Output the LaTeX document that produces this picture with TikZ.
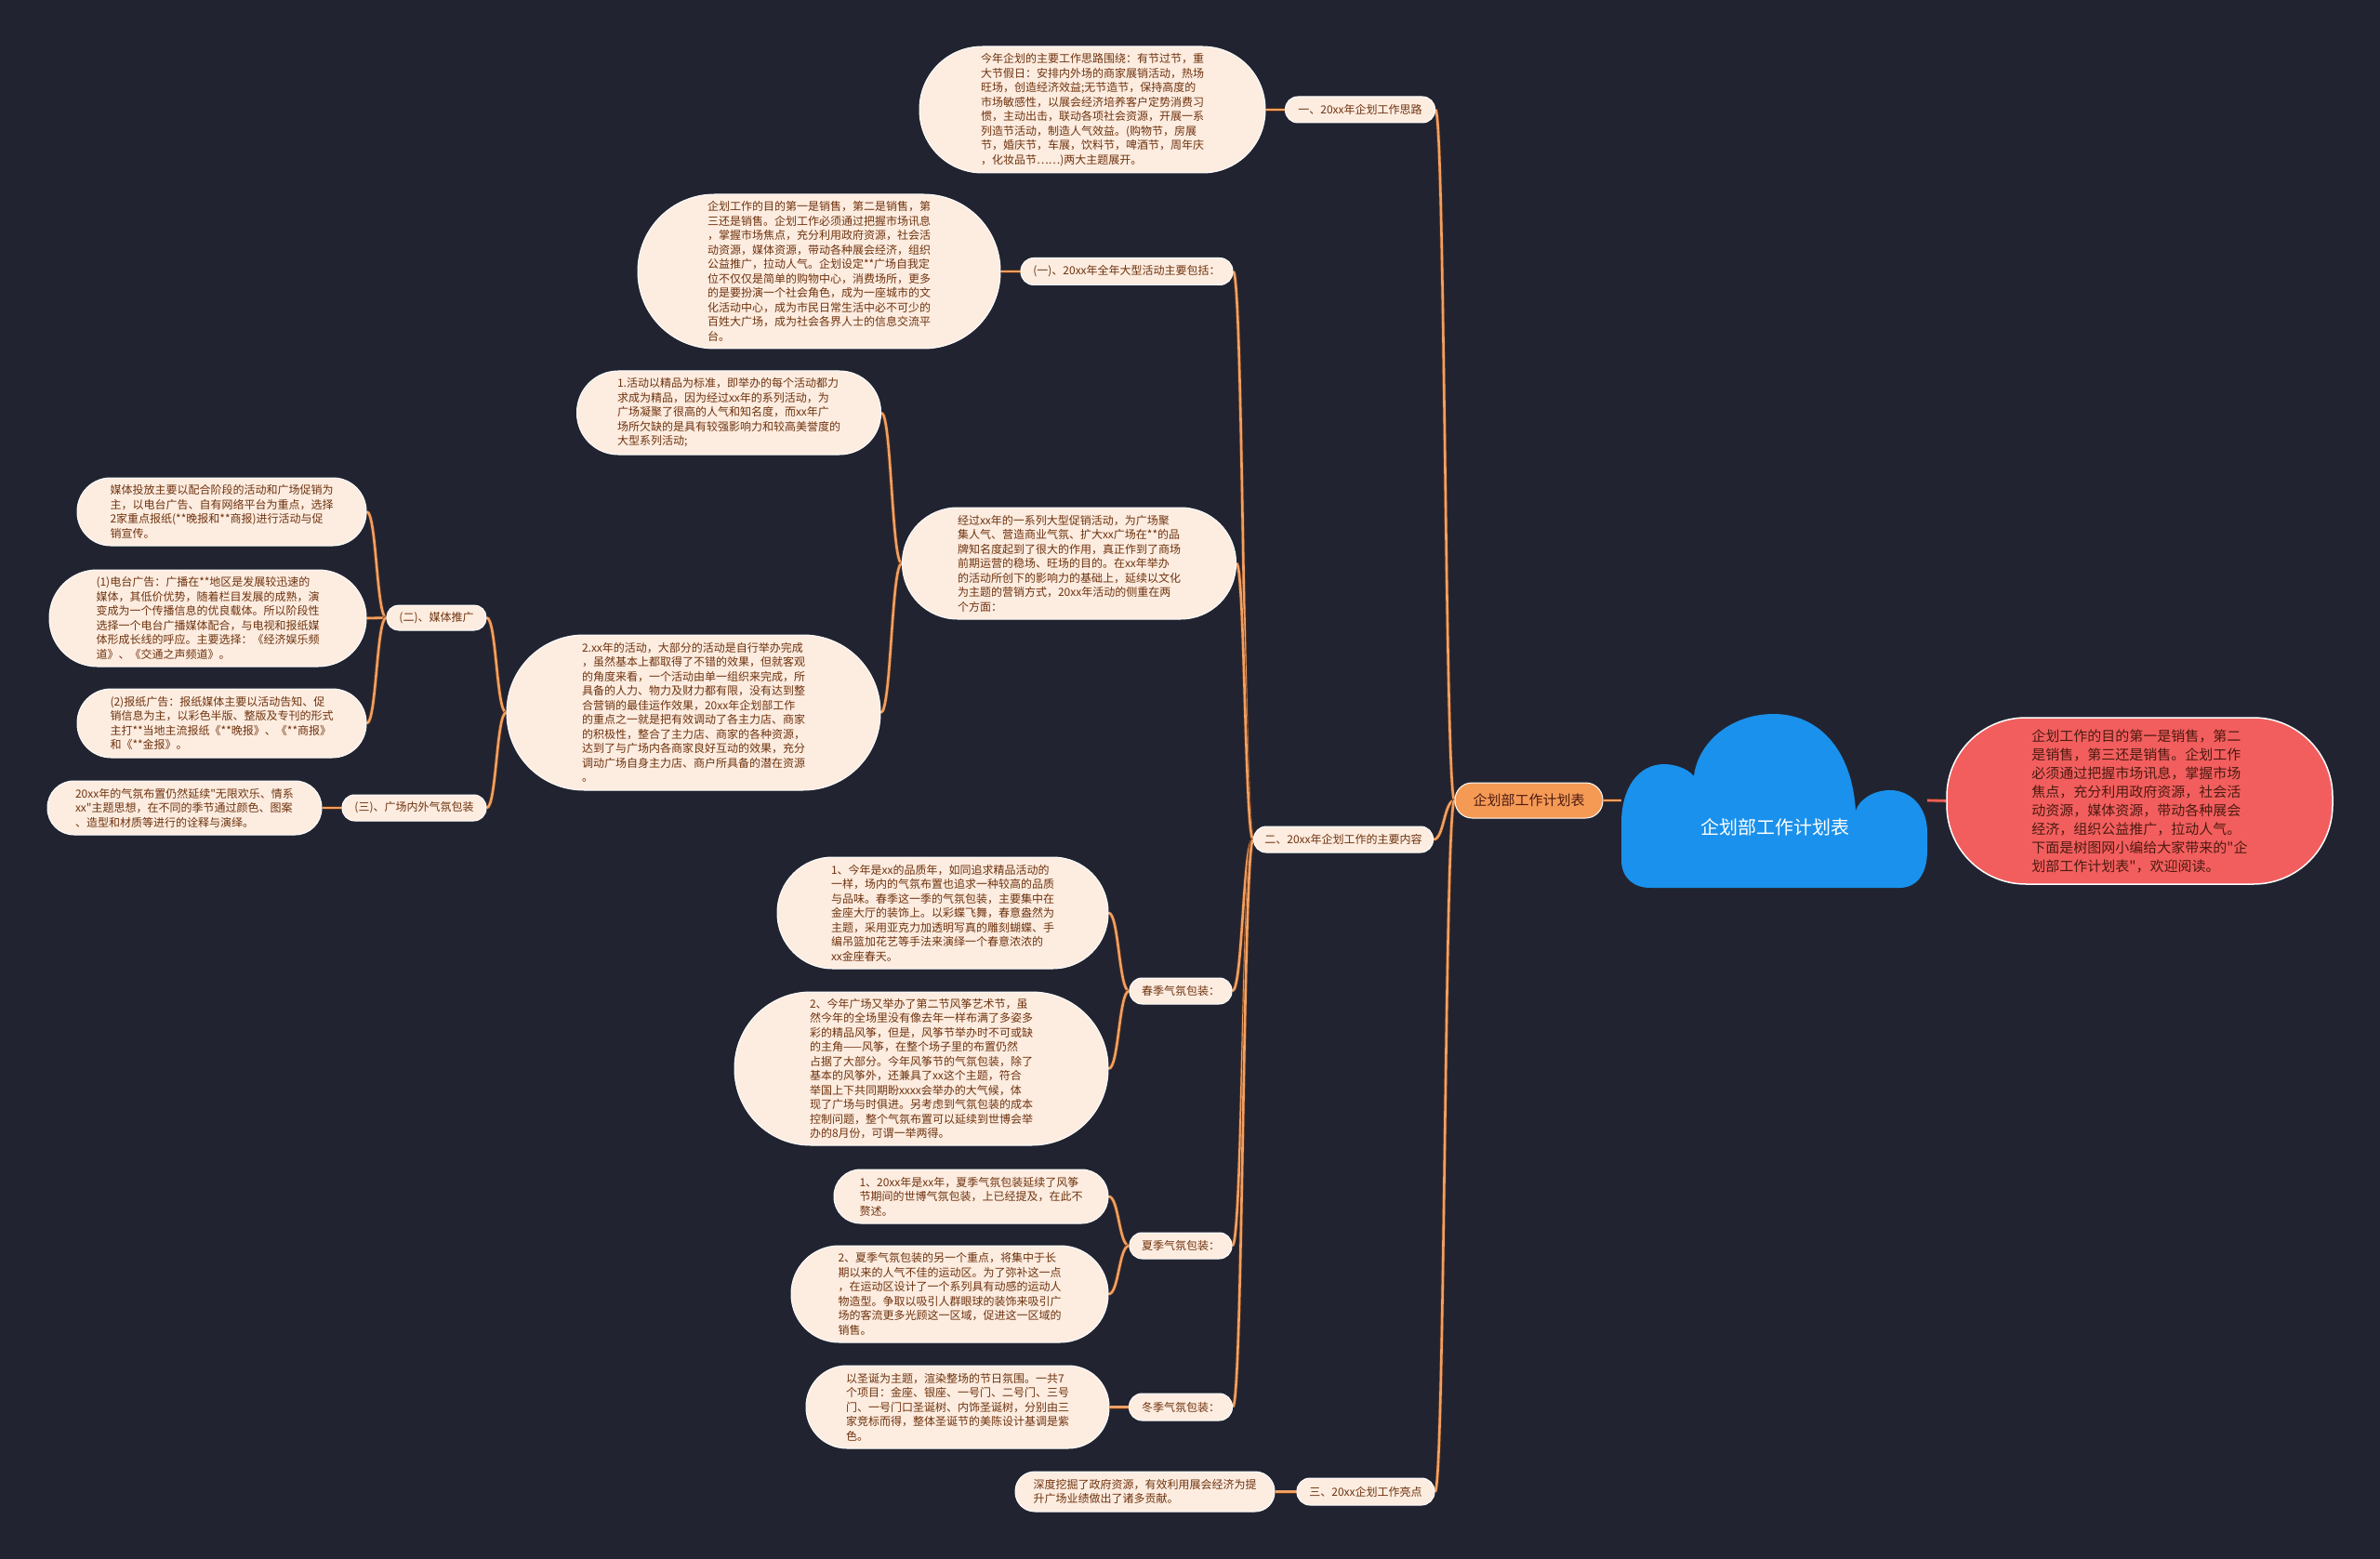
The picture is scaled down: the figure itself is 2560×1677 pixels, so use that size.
\documentclass[tikz,border=0pt]{standalone}
\usepackage{fontspec}
\setmainfont{Noto Sans CJK SC}[Ligatures=TeXOff]
\usetikzlibrary{calc}
\definecolor{bg}{HTML}{212430}
\definecolor{peach}{HTML}{FDECE0}
\definecolor{txtbrown}{HTML}{6E330E}
\definecolor{connc}{HTML}{F0A064}
\definecolor{connd}{HTML}{5A3018}
\definecolor{cloudc}{HTML}{1A91EC}
\definecolor{redc}{HTML}{F25E5E}
\definecolor{redtxt}{HTML}{4D1A10}
\definecolor{orangec}{HTML}{F59A55}
\newcommand\tnfont{\fontsize{12}{15.5}\selectfont}
\newcommand\conn[3][]{\path ($(#2)!0.5!(#3)$) coordinate (cm);
  \draw[conn,#1] (#2) .. controls (cm |- #2) and (cm |- #3) .. (#3);}
\pgfdeclarelayer{back}
\pgfsetlayers{back,main}
\tikzset{
  tn/.style n args={2}{rectangle, draw=white, line width=1pt, fill=peach,
    text=txtbrown, font=\tnfont, align=left, inner sep=0pt,
    minimum width=#1, minimum height=#2, rounded corners=(#2)/2-0.5},
  conn/.style={draw=connc, line width=2.6pt, preaction={draw=connd, line width=4pt}},
}
\begin{document}
\begin{tikzpicture}[x=1pt,y=-1pt]
\begin{pgfonlayer}{back}
\fill[bg] (0,0) rectangle (2560,1677);
\end{pgfonlayer}
\useasboundingbox (0,0) rectangle (2560,1677);

% text nodes
\node[tn={372}{136}] (T1) at (1175,118) {今年企划的主要工作思路围绕：有节过节，重\\大节假日：安排内外场的商家展销活动，热场\\旺场，创造经济效益;无节造节，保持高度的\\市场敏感性，以展会经济培养客户定势消费习\\惯，主动出击，联动各项社会资源，开展一系\\列造节活动，制造人气效益。(购物节，房展\\节，婚庆节，车展，饮料节，啤酒节，周年庆\\，化妆品节……)两大主题展开。};
\node[tn={161}{28}] (L1) at (1463,118) {一、20xx年企划工作思路};

\node[tn={390}{166}] (T2) at (881,292) {企划工作的目的第一是销售，第二是销售，第\\三还是销售。企划工作必须通过把握市场讯息\\，掌握市场焦点，充分利用政府资源，社会活\\动资源，媒体资源，带动各种展会经济，组织\\公益推广，拉动人气。企划设定**广场自我定\\位不仅仅是简单的购物中心，消费场所，更多\\的是要扮演一个社会角色，成为一座城市的文\\化活动中心，成为市民日常生活中必不可少的\\百姓大广场，成为社会各界人士的信息交流平\\台。};
\node[tn={228}{29}] (L2a) at (1212,292) {(一)、20xx年全年大型活动主要包括：};

\node[tn={327}{90}] (T3) at (784,444) {1.活动以精品为标准，即举办的每个活动都力\\求成为精品，因为经过xx年的系列活动，为\\广场凝聚了很高的人气和知名度，而xx年广\\场所欠缺的是具有较强影响力和较高美誉度的\\大型系列活动;};
\node[tn={359}{120}] (T4) at (1150,606) {经过xx年的一系列大型促销活动，为广场聚\\集人气、营造商业气氛、扩大xx广场在**的品\\牌知名度起到了很大的作用，真正作到了商场\\前期运营的稳场、旺场的目的。在xx年举办\\的活动所创下的影响力的基础上，延续以文化\\为主题的营销方式，20xx年活动的侧重在两\\个方面：};
\node[tn={402}{167}] (T5) at (746,766.5) {2.xx年的活动，大部分的活动是自行举办完成\\，虽然基本上都取得了不错的效果，但就客观\\的角度来看，一个活动由单一组织来完成，所\\具备的人力、物力及财力都有限，没有达到整\\合营销的最佳运作效果，20xx年企划部工作\\的重点之一就是把有效调动了各主力店、商家\\的积极性，整合了主力店、商家的各种资源，\\达到了与广场内各商家良好互动的效果，充分\\调动广场自身主力店、商户所具备的潜在资源\\。};

\node[tn={107}{27}] (L2b) at (469.5,664.5) {(二)、媒体推广};
\node[tn={311}{73}] (T6) at (238.5,550.5) {媒体投放主要以配合阶段的活动和广场促销为\\主，以电台广告、自有网络平台为重点，选择\\2家重点报纸(**晚报和**商报)进行活动与促\\销宣传。};
\node[tn={341}{104}] (T7) at (223.5,665) {(1)电台广告：广播在**地区是发展较迅速的\\媒体，其低价优势，随着栏目发展的成熟，演\\变成为一个传播信息的优良载体。所以阶段性\\选择一个电台广播媒体配合，与电视和报纸媒\\体形成长线的呼应。主要选择：《经济娱乐频\\道》、《交通之声频道》。};
\node[tn={311}{74}] (T8) at (238.5,778) {(2)报纸广告：报纸媒体主要以活动告知、促\\销信息为主，以彩色半版、整版及专刊的形式\\主打**当地主流报纸《**晚报》、《**商报》\\和《**金报》。};
\node[tn={155}{28}] (L2c) at (445.5,869) {(三)、广场内外气氛包装};
\node[tn={295}{58}] (T9) at (198.5,869) {20xx年的气氛布置仍然延续"无限欢乐、情系\\xx"主题思想，在不同的季节通过颜色、图案\\、造型和材质等进行的诠释与演绎。};

\node[tn={193}{28}] (L2) at (1445,903) {二、20xx年企划工作的主要内容};

\node[tn={356}{120}] (T10) at (1014,982) {1、今年是xx的品质年，如同追求精品活动的\\一样，场内的气氛布置也追求一种较高的品质\\与品味。春季这一季的气氛包装，主要集中在\\金座大厅的装饰上。以彩蝶飞舞，春意盎然为\\主题，采用亚克力加透明写真的雕刻蝴蝶、手\\编吊篮加花艺等手法来演绎一个春意浓浓的\\xx金座春天。};
\node[tn={402}{165}] (T11) at (991,1149.5) {2、今年广场又举办了第二节风筝艺术节，虽\\然今年的全场里没有像去年一样布满了多姿多\\彩的精品风筝，但是，风筝节举办时不可或缺\\的主角——风筝，在整个场子里的布置仍然\\占据了大部分。今年风筝节的气氛包装，除了\\基本的风筝外，还兼具了xx这个主题，符合\\举国上下共同期盼xxxx会举办的大气候，体\\现了广场与时俱进。另考虑到气氛包装的成本\\控制问题，整个气氛布置可以延续到世博会举\\办的8月份，可谓一举两得。};
\node[tn={110}{28}] (L2d) at (1270,1066) {春季气氛包装：};

\node[tn={295}{58}] (T12) at (1044.5,1287) {1、20xx年是xx年，夏季气氛包装延续了风筝\\节期间的世博气氛包装，上已经提及，在此不\\赘述。};
\node[tn={341}{104}] (T13) at (1021.5,1392) {2、夏季气氛包装的另一个重点，将集中于长\\期以来的人气不佳的运动区。为了弥补这一点\\，在运动区设计了一个系列具有动感的运动人\\物造型。争取以吸引人群眼球的装饰来吸引广\\场的客流更多光顾这一区域，促进这一区域的\\销售。};
\node[tn={110}{28}] (L2e) at (1270,1340) {夏季气氛包装：};

\node[tn={326}{89}] (T14) at (1030,1513.5) {以圣诞为主题，渲染整场的节日氛围。一共7\\个项目：金座、银座、一号门、二号门、三号\\门、一号门口圣诞树、内饰圣诞树，分别由三\\家竞标而得，整体圣诞节的美陈设计基调是紫\\色。};
\node[tn={111}{29}] (L2f) at (1270,1513.5) {冬季气氛包装：};

\node[tn={279}{43}] (T15) at (1231.5,1604.5) {深度挖掘了政府资源，有效利用展会经济为提\\升广场业绩做出了诸多贡献。};
\node[tn={148}{29}] (L3) at (1469,1604.5) {三、20xx企划工作亮点};

% root
\node[tn={159}{38}, fill=orangec, text=redtxt, font=\fontsize{15}{18}\selectfont] (O) at (1644.5,861) {企划部工作计划表};
\fill[cloudc] (1775,955) -- (2043,955) .. controls (2062,955) and (2073,940) .. (2073,915)
  -- (2073,895) .. controls (2073,868) and (2055,850) .. (2033,850)
  .. controls (2015,850) and (2000,860) .. (1996,872)
  .. controls (1992,805) and (1955,768) .. (1908,768)
  .. controls (1860,768) and (1826,800) .. (1822,835)
  .. controls (1815,826) and (1800,822) .. (1790,822)
  .. controls (1762,822) and (1744,848) .. (1744,885)
  -- (1744,925) .. controls (1744,945) and (1758,955) .. (1775,955) -- cycle;
\node[text=white, font=\fontsize{20}{24}\selectfont, inner sep=0pt] (cloud) at (1909,890) {企划部工作计划表};
\coordinate (cloudW) at (1744,861);
\coordinate (cloudE) at (2073,861);
\node[rectangle, fill=redc, draw=white, line width=1.5pt, rounded corners=85,
  minimum width=415, minimum height=179, inner sep=0pt, align=left,
  text=redtxt, font=\fontsize{15}{20}\selectfont] (red) at (2301.5,861.5)
  {企划工作的目的第一是销售，第二\\是销售，第三还是销售。企划工作\\必须通过把握市场讯息，掌握市场\\焦点，充分利用政府资源，社会活\\动资源，媒体资源，带动各种展会\\经济，组织公益推广，拉动人气。\\下面是树图网小编给大家带来的"企\\划部工作计划表"，欢迎阅读。};

\begin{pgfonlayer}{back}
\conn{L1.west}{T1.east}
\conn{L2a.west}{T2.east}
\conn{T4.west}{T3.east}
\conn{T4.west}{T5.east}
\conn{T5.west}{L2b.east}
\conn{T5.west}{L2c.east}
\conn{L2b.west}{T6.east}
\conn{L2b.west}{T7.east}
\conn{L2b.west}{T8.east}
\conn{L2c.west}{T9.east}
\conn{L2.west}{L2a.east}
\conn{L2.west}{T4.east}
\conn{L2.west}{L2d.east}
\conn{L2.west}{L2e.east}
\conn{L2.west}{L2f.east}
\conn{L2d.west}{T10.east}
\conn{L2d.west}{T11.east}
\conn{L2e.west}{T12.east}
\conn{L2e.west}{T13.east}
\conn{L2f.west}{T14.east}
\conn{L3.west}{T15.east}
\conn{O.west}{L1.east}
\conn{O.west}{L2.east}
\conn{O.west}{L3.east}
\draw[conn] (O.east) -- (cloudW);
\draw[conn, draw=redc] (cloudE) -- (red.west);
\end{pgfonlayer}
\end{tikzpicture}
\end{document}
